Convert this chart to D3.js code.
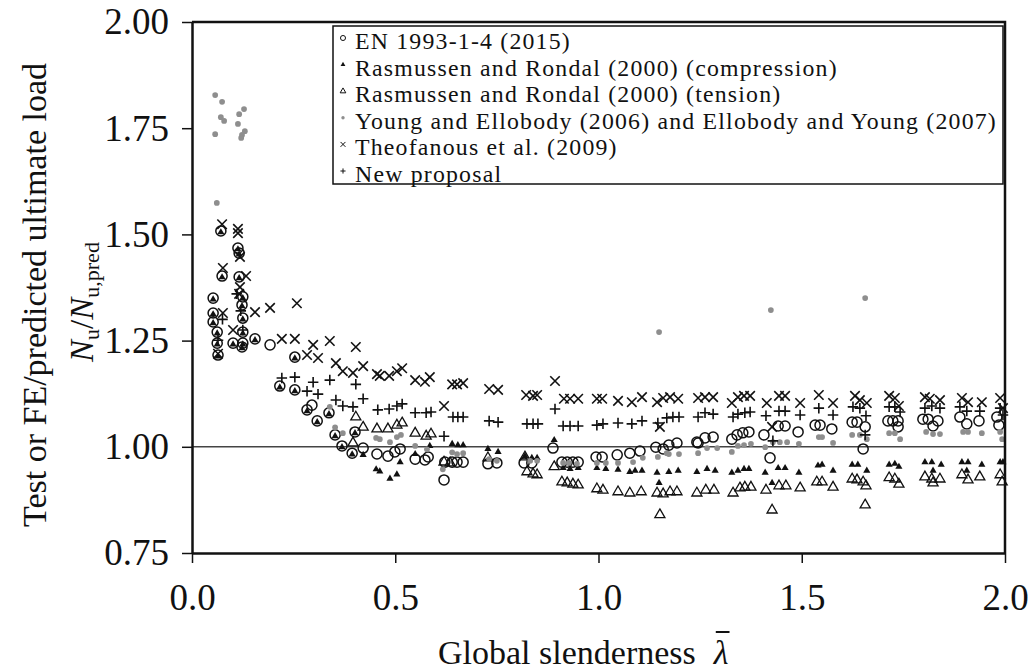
<!DOCTYPE html>
<html>
<head>
<meta charset="utf-8">
<script src="https://cdn.jsdelivr.net/npm/d3@7"></script>
<style>
  body { margin: 0; background: #fff; }
  svg text { font-family: "Liberation Serif", "Times New Roman", serif; fill: #111; }
</style>
</head>
<body>
<div id="chart"></div>
<script>
// [global slenderness, Nu/Nu,pred]
var enData = [
  [0.071,1.508],[0.113,1.468],[0.116,1.456],[0.074,1.402],[0.116,1.400],[0.052,1.350],[0.125,1.353],
  [0.123,1.334],[0.052,1.315],[0.052,1.294],[0.125,1.303],[0.062,1.270],[0.125,1.270],[0.062,1.244],
  [0.101,1.244],[0.125,1.244],[0.155,1.254],[0.192,1.240],[0.064,1.216],[0.123,1.235],
  [0.253,1.211],[0.216,1.143],[0.253,1.134],[0.283,1.087],[0.295,1.098],[0.308,1.061],[0.337,1.080],
  [0.352,1.028],[0.369,1.002],[0.394,0.985],[0.401,1.035],[0.421,0.997],[0.455,0.983],[0.482,0.978],
  [0.499,0.988],[0.512,0.995],[0.549,0.971],[0.573,0.969],[0.581,0.976],[0.620,0.922],[0.622,0.964],
  [0.640,0.964],[0.652,0.964],[0.667,0.964],[0.728,0.960],[0.750,0.962],[0.817,0.962],[0.836,0.962],
  [0.888,0.997],[0.910,0.964],[0.923,0.964],[0.937,0.964],[0.950,0.964],[0.994,0.976],[1.009,0.976],
  [1.046,0.981],[1.077,0.985],[1.102,0.990],[1.141,0.999],[1.159,0.995],[1.173,1.004],[1.193,1.009],
  [1.242,1.011],[1.245,1.009],[1.262,1.021],[1.282,1.023],[1.328,1.018],[1.341,1.028],[1.355,1.033],
  [1.370,1.035],[1.407,1.028],[1.422,0.974],[1.442,1.049],[1.459,1.049],[1.491,1.035],[1.533,1.051],
  [1.545,1.051],[1.574,1.042],[1.624,1.058],[1.636,1.058],[1.656,1.047],[1.651,0.995],[1.712,1.061],
  [1.724,1.061],[1.737,1.061],[1.737,1.047],[1.798,1.065],[1.811,1.065],[1.835,1.061],[1.823,1.049],
  [1.889,1.070],[1.906,1.054],[1.936,1.061],[1.980,1.070],[1.985,1.051]
];

var rrCompData = [
  [0.071,1.505],[0.113,1.465],[0.116,1.453],[0.074,1.399],[0.116,1.397],[0.052,1.347],[0.125,1.350],
  [0.123,1.331],[0.052,1.312],[0.052,1.291],[0.125,1.300],[0.062,1.267],[0.125,1.267],[0.062,1.241],
  [0.101,1.241],[0.125,1.241],[0.155,1.251],[0.064,1.213],[0.123,1.232],
  [0.253,1.208],[0.216,1.140],[0.253,1.131],[0.283,1.084],[0.308,1.058],[0.337,1.077],[0.352,1.025],
  [0.369,0.999],[0.394,0.982],[0.401,1.032],
  [0.421,0.981],[0.453,0.947],[0.462,0.942],[0.487,0.925],[0.504,0.935],[0.512,0.964],[0.549,0.983],
  [0.585,1.002],[0.640,1.007],[0.654,1.004],[0.667,1.004],[0.728,0.995],[0.753,0.988],[0.819,0.978],
  [0.836,0.974],[0.849,0.974],[0.891,1.016],[0.913,0.950],[0.930,0.948],[0.950,0.950],[0.996,0.950],
  [1.018,0.948],[1.048,0.946],[1.077,0.941],[1.090,0.944],[1.107,0.944],[1.144,0.939],[1.173,0.941],
  [1.196,0.944],[1.149,0.915],[1.242,0.941],[1.267,0.948],[1.287,0.944],[1.328,0.939],[1.343,0.944],
  [1.358,0.948],[1.370,0.948],[1.410,0.939],[1.442,0.950],[1.459,0.950],[1.427,0.915],[1.493,0.939],
  [1.540,0.956],[1.550,0.958],[1.577,0.944],[1.624,0.958],[1.638,0.958],[1.660,0.944],[1.715,0.958],
  [1.729,0.960],[1.739,0.953],[1.803,0.964],[1.820,0.964],[1.843,0.958],[1.823,0.944],[1.894,0.964],
  [1.909,0.964],[1.906,0.944],[1.943,0.958],[1.988,0.964],[1.995,0.964]
];

var rrTensData = [
  [0.403,1.070],[0.421,1.046],[0.396,1.009],[0.455,1.042],[0.482,1.042],[0.504,1.051],[0.517,1.056],
  [0.549,1.032],[0.576,1.025],[0.588,1.030],[0.620,0.964],[0.635,0.962],[0.728,0.974],[0.819,0.976],
  [0.824,0.941],[0.839,0.936],[0.849,0.934],[0.891,0.953],[0.910,0.917],[0.923,0.915],[0.937,0.912],
  [0.950,0.910],[0.996,0.901],[1.011,0.898],[1.048,0.894],[1.077,0.891],[1.105,0.894],[1.144,0.891],
  [1.159,0.889],[1.176,0.894],[1.193,0.894],[1.151,0.840],[1.242,0.891],[1.264,0.898],[1.284,0.898],
  [1.331,0.891],[1.348,0.903],[1.360,0.905],[1.375,0.905],[1.412,0.898],[1.444,0.908],[1.461,0.908],
  [1.427,0.851],[1.496,0.903],[1.537,0.917],[1.550,0.917],[1.577,0.905],[1.624,0.924],[1.636,0.922],
  [1.651,0.917],[1.658,0.908],[1.656,0.863],[1.715,0.927],[1.729,0.924],[1.739,0.912],[1.803,0.929],
  [1.820,0.924],[1.840,0.924],[1.823,0.915],[1.894,0.934],[1.909,0.922],[1.938,0.929],[1.988,0.934],
  [1.993,0.917]
];

var yeData = [
  [0.057,1.828],[0.074,1.812],[0.071,1.776],[0.079,1.767],[0.057,1.736],[0.116,1.783],[0.128,1.795],
  [0.113,1.760],[0.130,1.743],[0.123,1.734],[0.121,1.727],[0.061,1.574],
  [0.339,1.094],[0.352,1.046],[0.371,1.032],[0.453,1.021],[0.462,1.018],[0.487,1.011],[0.504,1.023],
  [0.514,1.028],[0.549,1.002],[0.578,0.994],[0.617,0.947],[0.640,0.987],[0.652,0.983],[0.667,0.985],
  [0.731,0.971],[0.750,0.967],[0.832,0.967],[0.849,0.967],[0.913,0.962],[0.927,0.962],[0.947,0.960],
  [0.996,0.962],[1.018,0.962],[1.048,0.962],[1.085,0.964],[1.109,0.974],[1.146,0.976],[1.168,0.985],
  [1.173,0.983],[1.198,0.983],[1.245,0.985],[1.267,0.997],[1.292,0.997],[1.328,0.988],[1.343,1.002],
  [1.358,1.004],[1.375,1.007],[1.410,0.999],[1.429,1.011],[1.446,1.011],[1.464,1.011],[1.493,1.007],
  [1.542,1.023],[1.550,1.023],[1.577,1.009],[1.624,1.028],[1.643,1.028],[1.660,1.018],[1.715,1.032],
  [1.729,1.032],[1.742,1.018],[1.806,1.035],[1.823,1.030],[1.840,1.030],[1.897,1.035],[1.909,1.035],
  [1.943,1.032],[1.988,1.035],[1.993,1.018],[1.149,1.270],[1.424,1.322],[1.656,1.350]
];

var theoData = [
  [0.074,1.524],[0.113,1.513],[0.113,1.503],[0.118,1.447],[0.076,1.421],[0.133,1.402],[0.118,1.376],
  [0.116,1.360],[0.155,1.317],[0.192,1.327],[0.258,1.338],[0.076,1.315],[0.101,1.275],[0.064,1.219],
  [0.221,1.254],[0.253,1.254],[0.298,1.240],[0.339,1.249],[0.403,1.235],[0.283,1.216],[0.310,1.209],
  [0.354,1.197],[0.371,1.178],[0.396,1.174],[0.421,1.190],[0.455,1.171],[0.462,1.167],[0.485,1.167],
  [0.504,1.178],[0.517,1.185],[0.549,1.157],[0.573,1.153],[0.585,1.164],[0.640,1.147],[0.652,1.147],
  [0.667,1.150],[0.620,1.096],[0.731,1.136],[0.753,1.134],[0.822,1.122],[0.839,1.120],[0.849,1.122],
  [0.893,1.155],[0.915,1.113],[0.930,1.113],[0.950,1.113],[0.996,1.113],[1.009,1.113],[1.048,1.108],
  [1.082,1.105],[1.107,1.117],[1.144,1.105],[1.151,1.047],[1.159,1.115],[1.176,1.117],[1.196,1.113],
  [1.245,1.115],[1.262,1.117],[1.282,1.117],[1.328,1.103],[1.343,1.117],[1.358,1.120],[1.373,1.120],
  [1.414,1.103],[1.427,1.047],[1.444,1.120],[1.459,1.120],[1.496,1.103],[1.542,1.122],[1.577,1.103],
  [1.631,1.120],[1.643,1.110],[1.660,1.103],[1.715,1.120],[1.729,1.115],[1.739,1.096],[1.803,1.117],
  [1.815,1.113],[1.840,1.110],[1.894,1.115],[1.909,1.105],[1.943,1.105],[1.988,1.115],[1.995,1.091]
];

var newData = [
  [0.064,1.251],[0.075,1.300],[0.120,1.320],[0.125,1.275],[0.110,1.360],
  [0.221,1.162],[0.253,1.164],[0.298,1.152],[0.339,1.157],[0.403,1.147],[0.283,1.131],[0.310,1.124],
  [0.354,1.110],[0.371,1.096],[0.396,1.094],[0.421,1.113],[0.457,1.087],[0.485,1.089],[0.504,1.096],
  [0.517,1.101],[0.549,1.080],[0.576,1.080],[0.588,1.082],[0.620,1.025],[0.642,1.070],[0.654,1.070],
  [0.667,1.070],[0.731,1.061],[0.753,1.058],[0.824,1.054],[0.839,1.054],[0.851,1.054],[0.893,1.089],
  [0.913,1.049],[0.930,1.049],[0.950,1.049],[0.996,1.051],[1.011,1.054],[1.048,1.056],[1.082,1.054],
  [1.107,1.061],[1.146,1.056],[1.168,1.068],[1.183,1.070],[1.198,1.070],[1.245,1.070],[1.262,1.080],
  [1.282,1.077],[1.331,1.070],[1.343,1.077],[1.360,1.080],[1.373,1.082],[1.412,1.073],[1.444,1.084],
  [1.459,1.084],[1.496,1.075],[1.429,1.014],[1.542,1.091],[1.577,1.075],[1.626,1.094],[1.643,1.091],
  [1.658,1.073],[1.656,1.028],[1.715,1.094],[1.729,1.094],[1.742,1.082],[1.803,1.091],[1.820,1.096],
  [1.840,1.091],[1.889,1.094],[1.906,1.084],[1.938,1.084],[1.988,1.091],[1.995,1.075]
];

var legendLabels = [
  "EN 1993-1-4 (2015)",
  "Rasmussen and Rondal (2000) (compression)",
  "Rasmussen and Rondal (2000) (tension)",
  "Young and Ellobody (2006) and Ellobody and Young (2007)",
  "Theofanous et al. (2009)",
  "New proposal"
];
var xTicks = [0, 0.5, 1.0, 1.5, 2.0];
var yTicks = [0.75, 1.00, 1.25, 1.50, 1.75, 2.00];

var W = 1031, H = 672;
var margin = {left: 192, right: 26, top: 22, bottom: 119};

var svg = d3.select("#chart").append("svg")
    .attr("width", W)
    .attr("height", H);

var x = d3.scaleLinear().domain([0, 2]).range([margin.left, W - margin.right]);
var y = d3.scaleLinear().domain([0.75, 2]).range([H - margin.bottom, margin.top]);

// custom stroked marks
var symTimes = { draw: function(ctx, size) {
  var r = Math.sqrt(size) / 2;
  ctx.moveTo(-r, -r); ctx.lineTo(r, r); ctx.moveTo(-r, r); ctx.lineTo(r, -r);
}};
var symPlus = { draw: function(ctx, size) {
  var r = Math.sqrt(size) / 2;
  ctx.moveTo(-r, 0); ctx.lineTo(r, 0); ctx.moveTo(0, -r); ctx.lineTo(0, r);
}};

var series = [
  {data: enData,     type: d3.symbolCircle,   size: 80, fill: "none", stroke: "#111", sw: 1.5},
  {data: rrCompData, type: d3.symbolTriangle, size: 22, fill: "#111", stroke: "none", sw: 0},
  {data: rrTensData, type: d3.symbolTriangle, size: 44, fill: "none", stroke: "#111", sw: 1.3},
  {data: yeData,     type: d3.symbolCircle,   size: 26, fill: "#8e8e8e", stroke: "none", sw: 0},
  {data: theoData,   type: symTimes,          size: 90, fill: "none", stroke: "#111", sw: 1.6},
  {data: newData,    type: symPlus,           size: 110, fill: "none", stroke: "#111", sw: 1.6}
];

// reference line at 1.0
svg.append("line")
    .attr("x1", x(0)).attr("x2", x(2))
    .attr("y1", y(1)).attr("y2", y(1))
    .attr("stroke", "#444").attr("stroke-width", 1.6);

series.forEach(function(s, i) {
  svg.append("g").attr("class", "series" + i)
    .selectAll("path").data(s.data).enter().append("path")
      .attr("transform", function(d) { return "translate(" + x(d[0]) + "," + y(d[1]) + ")"; })
      .attr("d", d3.symbol().type(s.type).size(s.size))
      .attr("fill", s.fill)
      .attr("stroke", s.stroke)
      .attr("stroke-width", s.sw);
});

// axes
var xAxis = svg.append("g")
    .attr("transform", "translate(0," + y(0.75) + ")")
    .call(d3.axisBottom(x).tickValues(xTicks).tickFormat(d3.format(".1f")).tickSize(10).tickSizeOuter(0).tickPadding(21));
var yAxis = svg.append("g")
    .attr("transform", "translate(" + x(0) + ",0)")
    .call(d3.axisLeft(y).tickValues(yTicks).tickFormat(d3.format(".2f")).tickSize(10).tickSizeOuter(0).tickPadding(13));
[xAxis, yAxis].forEach(function(a) {
  a.select(".domain").attr("stroke", "#111").attr("stroke-width", 2.5);
  a.selectAll(".tick line").attr("stroke", "#111").attr("stroke-width", 1.5);
  a.selectAll(".tick text").attr("font-size", 37).attr("font-family", "Liberation Serif").attr("fill", "#111");
});

// top and right frame
svg.append("path")
    .attr("d", "M" + x(0) + "," + y(2) + "H" + x(2) + "V" + y(0.75))
    .attr("fill", "none").attr("stroke", "#111").attr("stroke-width", 2.5);

// legend
var legend = svg.append("g").attr("transform", "translate(333,26)");
legend.append("rect")
    .attr("width", 670).attr("height", 158)
    .attr("fill", "#fff").attr("stroke", "#111").attr("stroke-width", 1.5);
var legendSizes = [20, 10, 14, 9, 24, 26];
legendLabels.forEach(function(lab, i) {
  var s = series[i];
  var row = legend.append("g").attr("transform", "translate(0," + (15 + i * 26.6) + ")");
  row.append("path")
    .attr("transform", "translate(10,-3)")
    .attr("d", d3.symbol().type(s.type).size(legendSizes[i]))
    .attr("fill", s.fill).attr("stroke", s.stroke).attr("stroke-width", s.sw ? 1 : 0);
  row.append("text")
    .attr("x", 22).attr("y", 8)
    .attr("font-size", 23.8)
    .attr("letter-spacing", 1.2)
    .text(lab);
});

// y axis title
svg.append("text")
    .attr("transform", "translate(46,295) rotate(-90)")
    .attr("text-anchor", "middle")
    .attr("font-size", 34)
    .text("Test or FE/predicted ultimate load");
var yt2 = svg.append("text")
    .attr("transform", "translate(93,302) rotate(-90)")
    .attr("text-anchor", "middle")
    .attr("font-size", 33);
yt2.append("tspan").attr("font-style", "italic").text("N");
yt2.append("tspan").attr("font-size", 22).attr("dy", 6).text("u");
yt2.append("tspan").attr("dy", -6).text("/");
yt2.append("tspan").attr("font-style", "italic").text("N");
yt2.append("tspan").attr("font-size", 22).attr("dy", 6).text("u,pred");

// x axis title with barred lambda
var xt = svg.append("text")
    .attr("x", 438).attr("y", 664)
    .attr("font-size", 34)
    .text("Global slenderness");
var lamX = 438 + xt.node().getComputedTextLength() + 18;
var lam = svg.append("text")
    .attr("x", lamX).attr("y", 664)
    .attr("font-size", 34).attr("font-style", "italic")
    .text("λ");
var lw = lam.node().getComputedTextLength();
svg.append("line")
    .attr("x1", lamX + 2).attr("x2", lamX + lw + 1)
    .attr("y1", 632).attr("y2", 632)
    .attr("stroke", "#111").attr("stroke-width", 2);
</script>
</body>
</html>
